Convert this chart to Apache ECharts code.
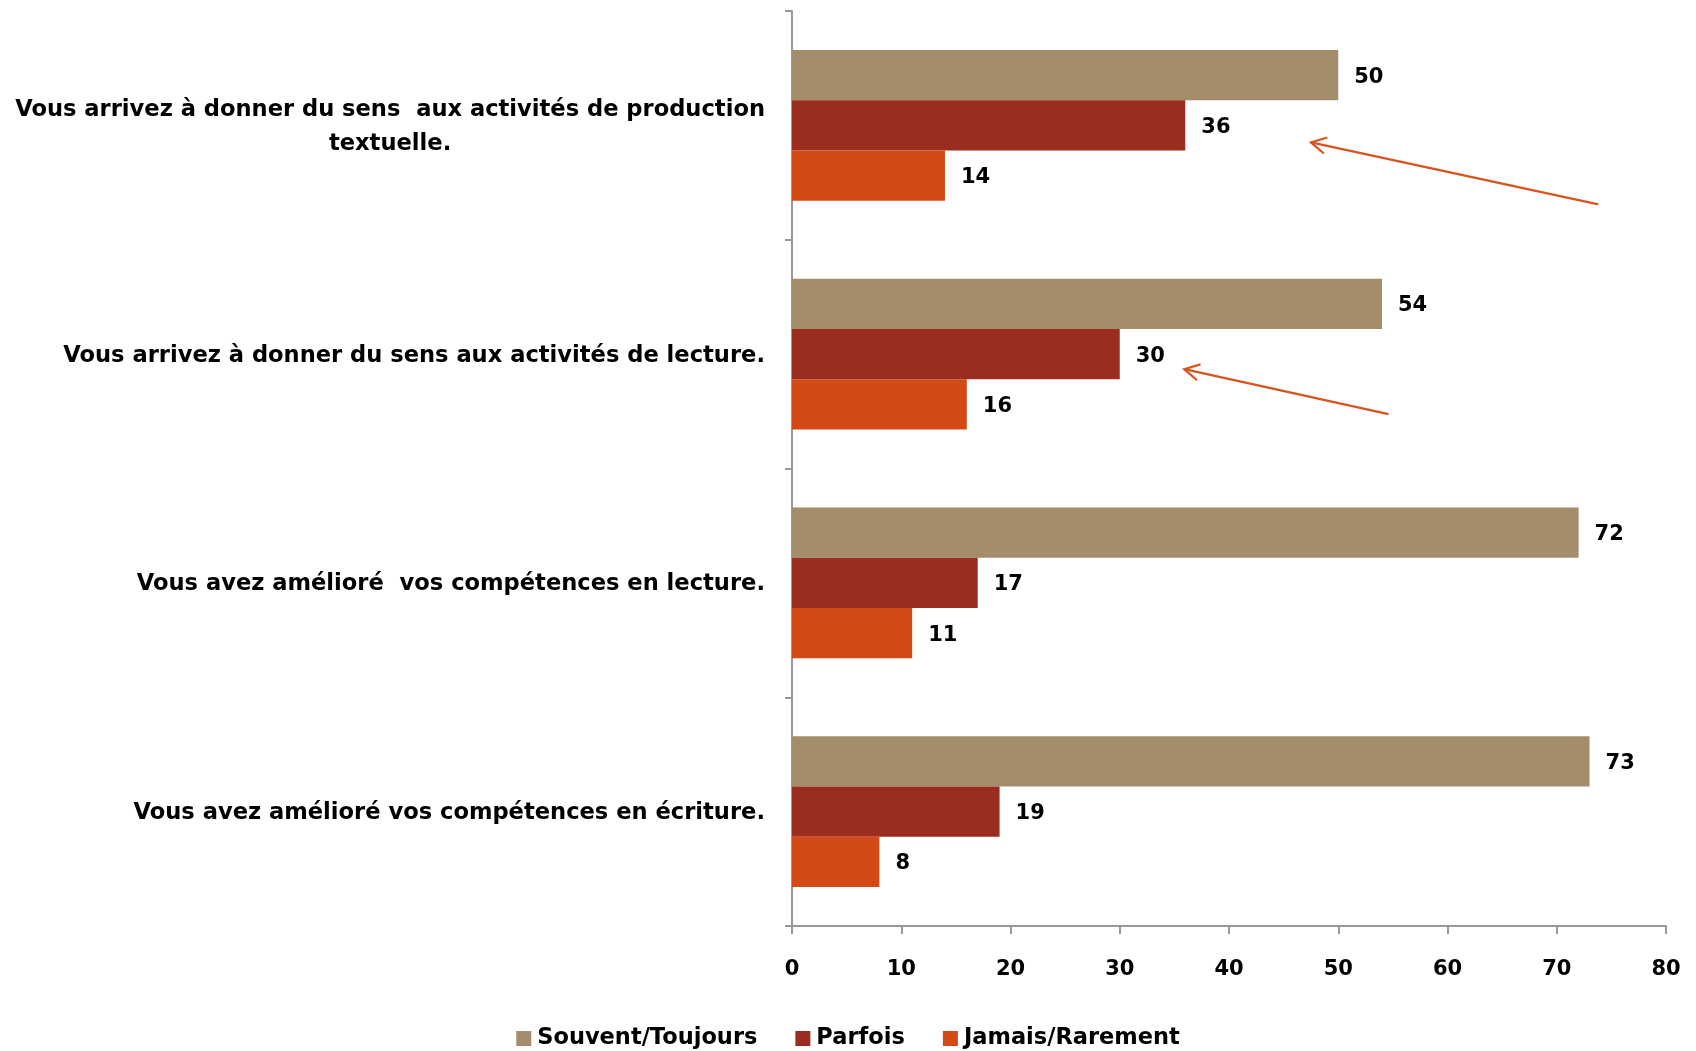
<!DOCTYPE html>
<html><head><meta charset="utf-8">
<script src="https://cdn.jsdelivr.net/npm/echarts@6/dist/echarts.min.js"></script>
<style>html,body{margin:0;padding:0;background:#fff}#c{width:1696px;height:1051px}</style>
</head><body><div id="c"></div>
<script>
const categories = [
  "Vous arrivez à donner du sens  aux activités de production\ntextuelle.",
  "Vous arrivez à donner du sens aux activités de lecture.",
  "Vous avez amélioré  vos compétences en lecture.",
  "Vous avez amélioré vos compétences en écriture."
];
const seriesNames = ["Souvent/Toujours", "Parfois", "Jamais/Rarement"];
const souvent = [50, 54, 72, 73];
const parfois = [36, 30, 17, 19];
const jamais = [14, 16, 11, 8];
const xTicks = [0, 10, 20, 30, 40, 50, 60, 70, 80];
const colors = ["#A38D6B", "#9B2C20", "#D34A17"];
// annotation arrows: [fromValue, fromCat, fromOffsetPx, toValue, toCat, toOffsetPx]
const arrows = [
  [73.8, 0, 79, 47.5, 0, 17],
  [54.6, 1, 60, 35.9, 1, 15]
];

const FONT = "'DejaVu Sans', sans-serif";
const chart = echarts.init(document.getElementById('c'));
const lbl = {show: true, position: 'right', distance: 16, color: '#000', fontWeight: 'bold', fontSize: 21, fontFamily: FONT, offset: [0, 2]};
const allData = [souvent, parfois, jamais];
chart.setOption({
  animation: false,
  grid: {left: 792, right: 30, top: 11, bottom: 125, containLabel: false},
  legend: {
    bottom: -4, left: 'center', itemWidth: 15, itemHeight: 15, itemGap: 38, icon: 'rect',
    textStyle: {fontWeight: 'bold', fontSize: 22.5, fontFamily: FONT, color: '#000', padding: [0,0,0,1]},
    data: seriesNames
  },
  xAxis: {
    type: 'value', min: xTicks[0], max: xTicks[xTicks.length-1], interval: 10,
    axisLine: {show: true, lineStyle: {color: '#999', width: 2}},
    axisTick: {show: true, length: 8, lineStyle: {color: '#999', width: 2}},
    splitLine: {show: false},
    axisLabel: {margin: 33, color: '#000', fontWeight: 'bold', fontSize: 21, fontFamily: FONT,
      formatter: v => xTicks.indexOf(v) >= 0 ? String(v) : ''}
  },
  yAxis: {
    type: 'category', data: categories, inverse: true,
    axisLine: {show: true, lineStyle: {color: '#999', width: 2}},
    axisTick: {show: true, length: 7, lineStyle: {color: '#999', width: 2}},
    axisLabel: {margin: 27, color: '#000', fontWeight: 'bold', fontSize: 22.6, fontFamily: FONT,
      formatter: v => '{a|' + v.split('\n').join('}\n{a|') + '}',
      rich: {a: {align: 'center', fontWeight: 'bold', fontSize: 22.6, fontFamily: FONT, color: '#000', lineHeight: 34, padding: [3, 0, 0, 0]}}}
  },
  series: seriesNames.map((n, i) => ({
    name: n, type: 'bar', data: allData[i], barGap: '0%', barCategoryGap: '34%',
    itemStyle: {color: colors[i]}, label: lbl
  }))
});

function px(v, c, off) {
  const x = chart.convertToPixel({xAxisIndex: 0}, v);
  const y = chart.convertToPixel({yAxisIndex: 0}, c) + off;
  return [x, y];
}
const g = [];
arrows.forEach(a => {
  const p1 = px(a[0], a[1], a[2]);
  const p2 = px(a[3], a[4], a[5]);
  const ang = Math.atan2(p1[1]-p2[1], p1[0]-p2[0]);
  const L = 17, w = 0.5;
  const h1 = [p2[0] + L*Math.cos(ang+w), p2[1] + L*Math.sin(ang+w)];
  const h2 = [p2[0] + L*Math.cos(ang-w), p2[1] + L*Math.sin(ang-w)];
  const st = {stroke: '#D9531E', lineWidth: 2.2, fill: null};
  g.push({type: 'polyline', shape: {points: [p1, p2]}, style: st, silent: true});
  g.push({type: 'polyline', shape: {points: [h1, p2, h2]}, style: st, silent: true});
});
chart.setOption({graphic: g});
</script></body></html>
